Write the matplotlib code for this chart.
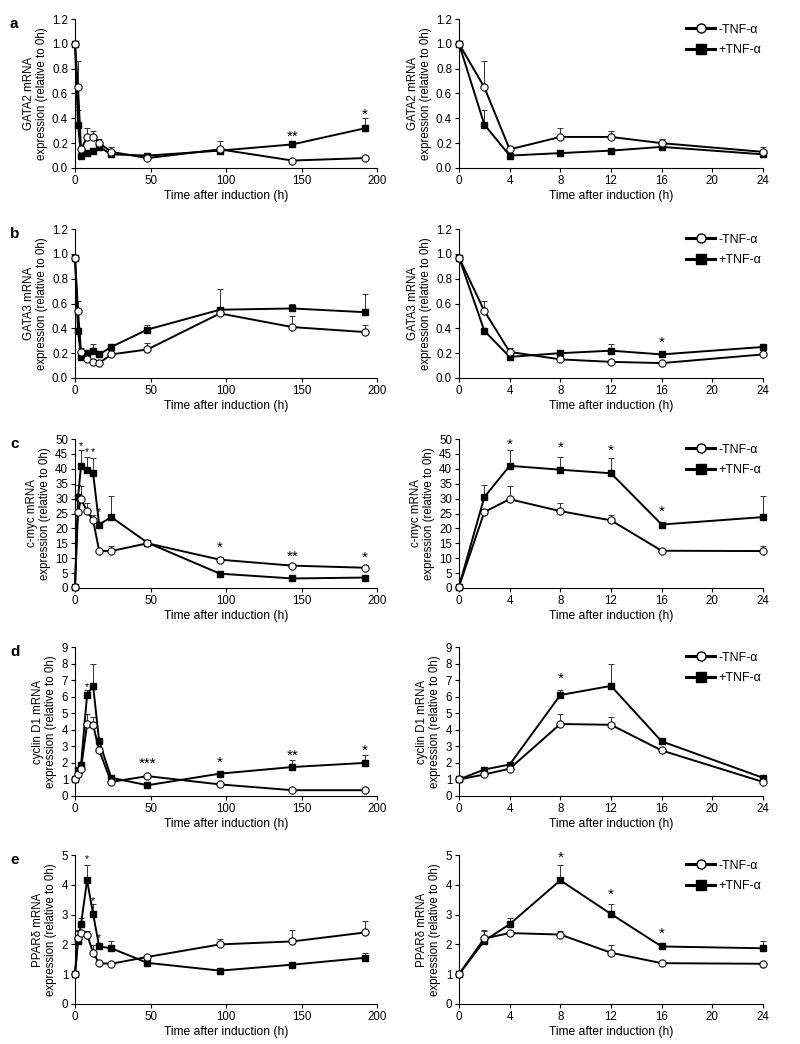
import matplotlib
matplotlib.use("Agg")
import matplotlib.pyplot as plt
from matplotlib.lines import Line2D

plt.rcParams['font.family'] = ['Liberation Sans', 'DejaVu Sans']

# ---------------- data ----------------
t_long = [0, 2, 4, 8, 12, 16, 24, 48, 96, 144, 192]
n_short = 7  # right-hand panels show the first 24 h

gata2_minus = [1.00, 0.65, 0.15, 0.25, 0.25, 0.20, 0.13, 0.08, 0.15, 0.06, 0.08]
gata2_minus_err = [0.00, 0.21, 0.00, 0.07, 0.05, 0.03, 0.04, 0.00, 0.07, 0.00, 0.00]
gata2_plus = [1.00, 0.35, 0.10, 0.12, 0.14, 0.17, 0.11, 0.10, 0.14, 0.19, 0.32]
gata2_plus_err = [0.00, 0.12, 0.00, 0.00, 0.00, 0.02, 0.00, 0.00, 0.00, 0.00, 0.08]

gata3_minus = [0.97, 0.54, 0.21, 0.15, 0.13, 0.12, 0.19, 0.23, 0.52, 0.41, 0.37]
gata3_minus_err = [0.00, 0.08, 0.03, 0.00, 0.00, 0.00, 0.00, 0.05, 0.00, 0.09, 0.06]
gata3_plus = [0.97, 0.38, 0.17, 0.20, 0.22, 0.19, 0.25, 0.39, 0.55, 0.56, 0.53]
gata3_plus_err = [0.02, 0.00, 0.00, 0.02, 0.05, 0.01, 0.00, 0.04, 0.17, 0.04, 0.15]

cmyc_minus = [0.5, 25.5, 29.8, 25.8, 22.7, 12.5, 12.4, 15.0, 9.5, 7.5, 6.8]
cmyc_minus_err = [0.0, 0.0, 4.3, 2.7, 1.8, 0.0, 1.8, 0.0, 1.0, 0.0, 0.0]
cmyc_plus = [0.5, 30.5, 41.0, 39.7, 38.5, 21.3, 23.8, 15.2, 4.8, 3.2, 3.5]
cmyc_plus_err = [0.0, 4.0, 5.4, 4.4, 5.0, 0.0, 7.0, 0.5, 0.0, 0.0, 0.0]

cycd1_minus = [1.0, 1.3, 1.65, 4.35, 4.3, 2.75, 0.85, 1.2, 0.7, 0.35, 0.35]
cycd1_minus_err = [0.0, 0.0, 0.0, 0.6, 0.45, 0.0, 0.0, 0.0, 0.0, 0.0, 0.0]
cycd1_plus = [1.0, 1.6, 1.9, 6.1, 6.65, 3.3, 1.1, 0.65, 1.35, 1.75, 2.0]
cycd1_plus_err = [0.0, 0.15, 0.1, 0.3, 1.35, 0.1, 0.1, 0.0, 0.15, 0.4, 0.5]

ppard_minus = [1.0, 2.2, 2.38, 2.33, 1.72, 1.37, 1.35, 1.58, 2.0, 2.1, 2.4]
ppard_minus_err = [0.0, 0.25, 0.05, 0.12, 0.25, 0.08, 0.0, 0.0, 0.17, 0.4, 0.4]
ppard_plus = [1.0, 2.12, 2.68, 4.15, 3.02, 1.93, 1.87, 1.38, 1.12, 1.32, 1.55]
ppard_plus_err = [0.0, 0.35, 0.22, 0.5, 0.33, 0.08, 0.23, 0.0, 0.05, 0.0, 0.17]

genes = ["GATA2", "GATA3", "c-myc", "cyclin D1", "PPARδ"]
letters = ["a", "b", "c", "d", "e"]
y_max = [1.2, 1.2, 50, 9, 5]
y_step = [0.2, 0.2, 5, 1, 1]
y_fmt = ["{:.1f}", "{:.1f}", "{:g}", "{:g}", "{:g}"]

# significance marks: (time, y, text, big?)
stars_long = [
    [(144, 0.25, "**", True), (192, 0.43, "*", True)],
    [],
    [(4, 47.5, "*", False), (8, 45.5, "*", False), (12, 45.5, "*", False),
     (16, 25.5, "*", False), (96, 13.5, "*", True), (144, 10.5, "**", True),
     (192, 10.0, "*", True)],
    [(8, 6.6, "*", False), (48, 1.95, "***", True), (96, 2.0, "*", True),
     (144, 2.45, "**", True), (192, 2.75, "*", True)],
    [(8, 4.85, "*", False), (12, 3.45, "*", False), (16, 2.2, "*", False)],
]
stars_short = [
    [],
    [(16, 0.28, "*", True)],
    [(4, 48.0, "*", True), (8, 47.0, "*", True), (12, 46.0, "*", True), (16, 25.5, "*", True)],
    [(8, 7.1, "*", True)],
    [(8, 4.9, "*", True), (12, 3.65, "*", True), (16, 2.35, "*", True)],
]

series = [
    (gata2_minus, gata2_minus_err, gata2_plus, gata2_plus_err),
    (gata3_minus, gata3_minus_err, gata3_plus, gata3_plus_err),
    (cmyc_minus, cmyc_minus_err, cmyc_plus, cmyc_plus_err),
    (cycd1_minus, cycd1_minus_err, cycd1_plus, cycd1_plus_err),
    (ppard_minus, ppard_minus_err, ppard_plus, ppard_plus_err),
]

# ---------------- layout ----------------
W, H = 800, 1044
fig = plt.figure(figsize=(W / 100, H / 100), dpi=100)
row_tops = [19, 229, 439, 647, 855]
row_h = 149
left_x = (75, 377)
right_x = (459, 763)

FS = 8.3


def px_axes(x0, x1, top, h):
    return fig.add_axes([x0 / W, 1 - (top + h) / H, (x1 - x0) / W, h / H])


def style(ax, ymax, ystep, fmt, gene):
    for s in ("top", "right"):
        ax.spines[s].set_visible(False)
    for s in ("left", "bottom"):
        ax.spines[s].set_linewidth(0.8)
    ax.tick_params(direction="out", length=3, width=0.8, labelsize=FS, pad=2)
    n = int(round(ymax / ystep))
    yt = [i * ystep for i in range(n + 1)]
    ax.set_yticks(yt)
    ax.set_yticklabels([fmt.format(v) for v in yt])
    ax.set_ylim(0, ymax)
    ax.set_ylabel(f"{gene} mRNA\nexpression (relative to 0h)", fontsize=FS, labelpad=3,
                  linespacing=1.1)
    ax.set_xlabel("Time after induction (h)", fontsize=FS + 0.4, labelpad=2)


def draw(ax, t, m, me, p, pe):
    eb_kw = dict(fmt="none", ecolor="#333333", elinewidth=0.7, capsize=2.5,
                 capthick=0.7, zorder=1)
    for vals, errs in ((m, me), (p, pe)):
        eb = ax.errorbar(t, vals, yerr=[[0] * len(errs), errs], **eb_kw)
        for art in eb.lines[1] + eb.lines[2]:
            art.set_clip_on(False)
    ax.plot(t, p, "-", color="black", lw=1.4, marker="s", ms=4.8,
            mfc="black", mec="black", zorder=3, clip_on=False)
    ax.plot(t, m, "-", color="black", lw=1.4, marker="o", ms=5.2,
            mfc="white", mec="black", mew=0.8, zorder=4, clip_on=False)


def add_stars(ax, stars):
    for x, y, txt, big in stars:
        ax.text(x, y, txt, ha="center", va="center",
                fontsize=11 if big else 7.5, zorder=5)


for i in range(5):
    m, me, p, pe = series[i]
    # long time course
    ax = px_axes(left_x[0], left_x[1], row_tops[i], row_h)
    draw(ax, t_long, m, me, p, pe)
    ax.set_xlim(0, 200)
    ax.set_xticks([0, 50, 100, 150, 200])
    style(ax, y_max[i], y_step[i], y_fmt[i], genes[i])
    add_stars(ax, stars_long[i])
    fig.text(10 / W, 1 - (row_tops[i] - 2) / H, letters[i], fontsize=11,
             fontweight="bold", va="top", ha="left")

    # first 24 h
    ax2 = px_axes(right_x[0], right_x[1], row_tops[i], row_h)
    draw(ax2, t_long[:n_short], m[:n_short], me[:n_short], p[:n_short], pe[:n_short])
    ax2.set_xlim(0, 24)
    ax2.set_xticks([0, 4, 8, 12, 16, 20, 24])
    style(ax2, y_max[i], y_step[i], y_fmt[i], genes[i])
    add_stars(ax2, stars_short[i])
    handles = [
        Line2D([], [], color="black", lw=2.2, marker="o", ms=6.5, mfc="white",
               mec="black", mew=1.0),
        Line2D([], [], color="black", lw=2.2, marker="s", ms=6.5, mfc="black",
               mec="black"),
    ]
    leg = ax2.legend(handles, ["-TNF-α", "+TNF-α"], loc="upper right",
                     bbox_to_anchor=(1.02, 1.02), frameon=False, fontsize=FS + 0.7,
                     handlelength=2.3, handletextpad=0.3, labelspacing=0.7,
                     borderaxespad=0.2)
    leg.set_zorder(10)

fig.savefig("out.png", dpi=100)
